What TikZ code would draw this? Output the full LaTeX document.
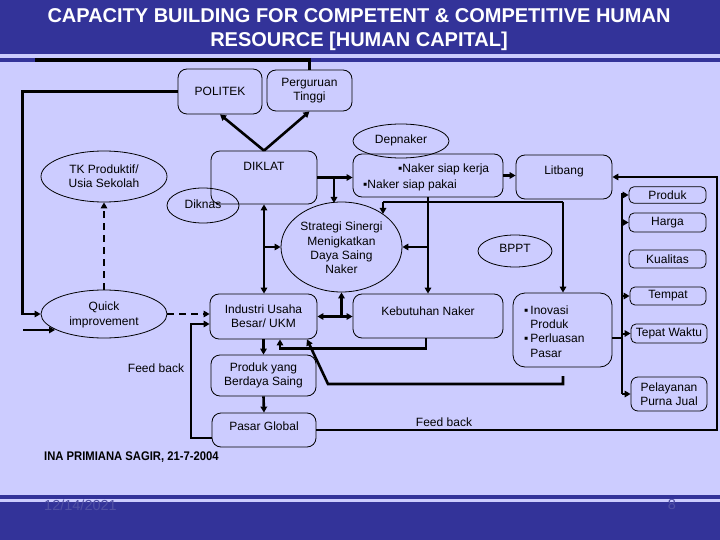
\documentclass[tikz,border=0pt]{standalone}
\usepackage{fontspec}
\setmainfont{Liberation Sans}
\usepackage{graphicx}
\usetikzlibrary{shapes.geometric,arrows.meta}
\definecolor{bg}{HTML}{CCCCFF}
\definecolor{band}{HTML}{333399}
\definecolor{datec}{HTML}{5050A4}
\newcommand\bodyfs{\fontsize{12}{14.3}\selectfont}
\begin{document}
\begin{tikzpicture}[x=1pt,y=-1pt,
  >={Triangle[length=6pt,width=6.5pt]},
  rbox/.style={draw, rounded corners=9pt, line width=0.8pt, inner sep=0pt, align=center, font=\bodyfs},
  sbox/.style={rbox, rounded corners=5pt},
  ell/.style={draw, ellipse, line width=0.8pt, inner sep=0pt},
  lbl/.style={inner sep=0pt, align=center, font=\bodyfs},
  conn/.style={line width=2.6pt},
  arr/.style={conn, ->},
  darr/.style={conn, <->},
  dasharr/.style={conn, ->, dash pattern=on 7pt off 5pt},
  fbline/.style={line width=2pt},
  fbarr/.style={line width=2pt, ->},
]
\useasboundingbox (0,0) rectangle (720,540);
% background and bands
\fill[bg] (0,0) rectangle (720,540);
\fill[band] (0,0) rectangle (720,54);
\fill[band] (0,58) rectangle (720,62);
\fill[band] (0,495) rectangle (720,499);
\fill[band] (0,502) rectangle (720,540);
\node[inner sep=0pt, font=\fontsize{20}{24}\selectfont\bfseries, text=white, align=center] (title) at (359,30)
  {CAPACITY BUILDING FOR COMPETENT \& COMPETITIVE HUMAN\\RESOURCE [HUMAN CAPITAL]};

% boxes
\node[rbox, minimum width=84pt, minimum height=45pt] (politek) at (220,91.5) {POLITEK};
\node[rbox, minimum width=85pt, minimum height=41pt] (pt) at (309.5,90.5) {Perguruan\\Tinggi};
\node[rbox, minimum width=106pt, minimum height=53pt] (diklat) at (264,177.5) {};
\node[lbl] (diklatt) at (264,166) {DIKLAT};
\node[rbox, minimum width=150pt, minimum height=43pt] (naker) at (428,175.5) {};
\node[lbl, anchor=west] (naker1) at (398,169) {▪Naker siap kerja};
\node[lbl, anchor=west] (naker2) at (363,185) {▪Naker siap pakai};
\node[rbox, minimum width=96pt, minimum height=44pt] (litbang) at (564,177) {};
\node[lbl] (litbangt) at (564,171) {Litbang};
\node[sbox, minimum width=77pt, minimum height=16.5pt] (produk) at (667.5,195) {Produk};
\node[sbox, minimum width=77pt, minimum height=19pt] (harga) at (667.5,222.5) {Harga};
\node[sbox, minimum width=77pt, minimum height=18pt] (kualitas) at (667.5,259) {Kualitas};
\node[sbox, minimum width=76pt, minimum height=18pt] (tempat) at (668,296) {Tempat};
\node[sbox, minimum width=76pt, minimum height=19pt] (tepat) at (669,333.5) {Tepat Waktu};
\node[rbox, rounded corners=7pt, minimum width=76pt, minimum height=34pt] (pelayanan) at (669,394) {Pelayanan\\Purna Jual};
\node[rbox, minimum width=107pt, minimum height=45pt] (industri) at (263.5,316.5) {Industri Usaha\\Besar/ UKM};
\node[rbox, minimum width=150pt, minimum height=44pt] (kebutuhan) at (428,316) {};
\node[lbl] (kebutuhant) at (428,311) {Kebutuhan Naker};
\node[rbox, rounded corners=12pt, minimum width=99pt, minimum height=74pt] (inovasi) at (562.5,330) {};
\node[lbl, anchor=west, align=left] (inovasit) at (524,331.5)
  {▪\,Inovasi\\\hphantom{▪\,}Produk\\▪\,Perluasan\\\hphantom{▪\,}Pasar};
\node[rbox, minimum width=105pt, minimum height=41pt] (produkyang) at (263.5,375.5) {Produk yang\\Berdaya Saing};
\node[rbox, minimum width=104pt, minimum height=34pt] (pasar) at (264,430) {};
\node[lbl] (pasart) at (264,426) {Pasar Global};

% ellipses
\node[ell, minimum width=126pt, minimum height=51pt] (tk) at (104,176.5) {};
\node[lbl] (tkt) at (104,176.5) {TK Produktif/\\Usia Sekolah};
\node[ell, minimum width=72pt, minimum height=35pt] (diknas) at (203,205.5) {};
\node[lbl] (diknast) at (203,204) {Diknas};
\node[ell, minimum width=96pt, minimum height=34pt] (depnaker) at (401,141) {};
\node[lbl] (depnakert) at (401,140) {Depnaker};
\node[ell, minimum width=121pt, minimum height=90pt] (strategi) at (341.5,247) {};
\node[lbl] (strategit) at (341.5,248) {Strategi Sinergi\\Menigkatkan\\Daya Saing\\Naker};
\node[ell, minimum width=74pt, minimum height=32pt] (bppt) at (515,251) {};
\node[lbl] (bpptt) at (515,248) {BPPT};
\node[ell, minimum width=126pt, minimum height=48pt] (qi) at (104,314) {};
\node[lbl] (qit) at (104,315) {Quick\\improvement};

% labels
\node[lbl] (fb1) at (156,368) {Feed back};
\node[lbl] (fb2) at (444,422) {Feed back};
\node[anchor=west, inner sep=0pt, font=\fontsize{12.5}{15}\selectfont\bfseries] (author) at (44,457)
  {\scalebox{0.9}[1]{INA PRIMIANA SAGIR, 21-7-2004}};
\node[anchor=west, inner sep=0pt, text=datec, font=\fontsize{14.5}{16}\selectfont] (date) at (44,505) {12/14/2021};
\node[inner sep=0pt, text=datec, font=\fontsize{14.5}{16}\selectfont] (page) at (672,505) {8};

% coordinates
\coordinate (topL) at (35,60);
\coordinate (qiin) at (23,330);
\coordinate (qiin2) at (55,330);
\coordinate (b1) at (334,177.5);
\coordinate (b1e) at (334,203);
\coordinate (h1) at (383,202);
\coordinate (h2) at (563,202);
\coordinate (s1) at (383,214);
\coordinate (fbR) at (717,300);
\coordinate (fbL) at (191,380);
\coordinate (busT) at (622,193);
\coordinate (busB) at (622,394);
\coordinate (inoB) at (563,376);
\coordinate (ino1) at (563,384);
\coordinate (ino2) at (328,384);
\coordinate (inoR) at ([yshift=-8pt]inovasi.east);

% connectors
\draw[line width=3.5pt] (topL) -| (pt.north);
\draw[arr] (diklat.north) -- (politek.south);
\draw[arr] (diklat.north) -- (pt.south);
\draw[arr] (politek.west) -- ++(-155,0) |- (qi.west);
\draw[arr] (qiin) -- (qiin2);
\draw[dasharr] (qi.north) -- (tk.south);
\draw[dasharr] (qi.east) -- (qi.east -| industri.west);
\draw[arr] (diklat.east) -- (diklat.east -| naker.west);
\draw[arr] (b1) -- (b1e);
\draw[arr] (naker.east) -- (naker.east -| litbang.west);
\draw[fbarr] (pasar.east) -| (fbR) |- (litbang.east);
\draw[fbline] (busT) -- (busB);
\draw[fbarr] (busT |- produk.west) -- (produk.west);
\draw[fbarr] (busT |- harga.west) -- (harga.west);
\draw[fbarr] (busT |- tempat.west) -- (tempat.west);
\draw[fbarr] (busT |- tepat.west) -- (tepat.west);
\draw[fbarr] (busB) -- (pelayanan.west);
\draw[fbline] (inoR) -- (inoR -| busT);
\draw[arr] (naker.south) -- (kebutuhan.north);
\draw[arr] (naker.south |- strategi.east) -- (strategi.east);
\draw[conn] (h1) -- (h2);
\draw[arr] (h1) -- (s1);
\draw[arr] (h2) -- (h2 |- inovasi.north);
\draw[darr] (diklat.south) -- (diklat.south |- industri.north);
\draw[arr] (diklat.south |- strategi.west) -- (strategi.west);
\draw[darr] (industri.east) -- (industri.east -| kebutuhan.west);
\draw[arr] (strategi.south |- industri.east) -- (strategi.south);
\draw[arr] (industri.south) -- (produkyang.north);
\draw[arr] (produkyang.south) -- (pasar.north);
\draw[arr] ([yshift=-8pt]pasar.west) -| (fbL) |- ([yshift=-7.5pt]industri.west);
\draw[arr] ([xshift=-2pt]kebutuhan.south) -- ++(0,10) -| ([xshift=16.5pt]industri.south);
\draw[arr] (inoB) -- (ino1) -- (ino2) -- ([xshift=43.5pt]industri.south);
\end{tikzpicture}
\end{document}
